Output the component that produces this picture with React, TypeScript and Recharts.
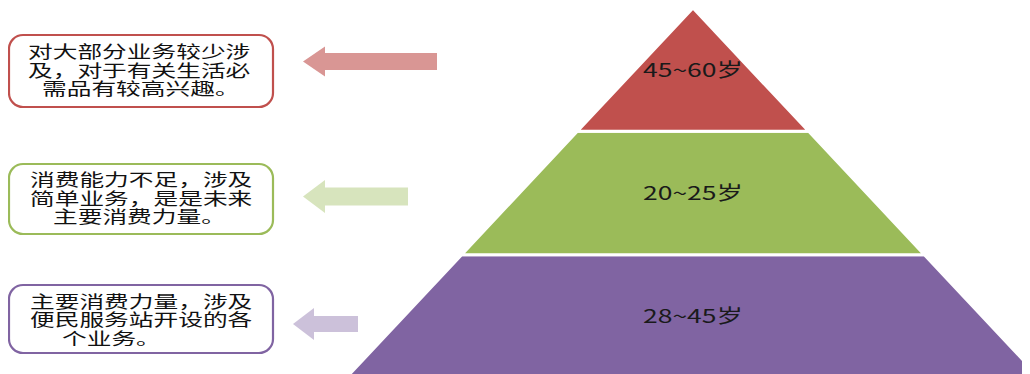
import { FunnelChart, Funnel, Cell, LabelList } from "recharts";

// pyramid levels, bottom to top (Funnel is reversed so the first item sits at the base)
const ageGroups = ["28~45岁", "20~25岁", "45~60岁"];
const levelValues = [3, 2, 1];
const levelColors = ["#8064a2", "#9bbb59", "#c0504d"];

// callout boxes, top to bottom
const noteLines = [
  ["对大部分业务较少涉", "及，对于有关生活必", "需品有较高兴趣。"],
  ["消费能力不足，涉及", "简单业务，是是未来", "主要消费力量。"],
  ["主要消费力量，涉及", "便民服务站开设的各", "个业务。"],
];
const noteBorders = ["#c0504d", "#9bbb59", "#8064a2"];
const arrowFills = ["#d99694", "#d7e4bd", "#ccc1da"];

const levels = ageGroups.map((name, i) => ({ name, value: levelValues[i] }));

const CJK = '"Noto Sans CJK SC", "Noto Sans", sans-serif';

const CHART_W = 694;
const CHART_H = 370;

// layout of the callouts (page coordinates)
const boxes = [
  { y: 35, h: 72, lineY: [51, 69.5, 88], lineX: [28, 28, 42] },
  { y: 164, h: 70, lineY: [179, 197.5, 216], lineX: [30, 30, 53] },
  { y: 285, h: 68, lineY: [300.5, 319, 337.5], lineX: [30, 30, 62] },
];
const arrows = [
  { tip: 303, back: 325, end: 437, cy: 61.5, head: 15, shaft: 8.5 },
  { tip: 303, back: 325, end: 408, cy: 196.5, head: 16.5, shaft: 9 },
  { tip: 293, back: 314, end: 358, cy: 324, head: 16, shaft: 8 },
];

const CHAR_W = 24.7;

function AgeLabel(props: any) {
  const vb = props.viewBox || {};
  const by = vb.y ?? props.y;
  const bh = vb.height ?? props.height;
  return (
    <text
      x={CHART_W / 2}
      y={by + bh / 2 - 1.5}
      textAnchor="middle"
      dominantBaseline="central"
      fontSize={19}
      textLength={100}
      lengthAdjust="spacingAndGlyphs"
      fill="#1a1a1a"
      fontFamily={CJK}
    >
      {props.value}
    </text>
  );
}

function Callouts() {
  return (
    <svg
      width={1022}
      height={366}
      viewBox="8 8 1022 366"
      style={{ position: "absolute", left: 0, top: 0, pointerEvents: "none" }}
    >
      {boxes.map((b, i) => (
        <g key={i}>
          <rect
            x={9}
            y={b.y}
            width={264}
            height={b.h}
            rx={14}
            fill="#fff"
            stroke={noteBorders[i]}
            strokeWidth={2.2}
          />
          <text dominantBaseline="central" fontSize={16.5} fontFamily={CJK} fill="#111">
            {noteLines[i].map((line, j) => (
              <tspan
                key={j}
                x={b.lineX[j]}
                y={b.lineY[j]}
                textLength={line.length * CHAR_W}
                lengthAdjust="spacingAndGlyphs"
              >
                {line}
              </tspan>
            ))}
          </text>
        </g>
      ))}
      {arrows.map((a, i) => (
        <polygon
          key={i}
          fill={arrowFills[i]}
          points={[
            [a.tip, a.cy],
            [a.back, a.cy - a.head],
            [a.back, a.cy - a.shaft],
            [a.end, a.cy - a.shaft],
            [a.end, a.cy + a.shaft],
            [a.back, a.cy + a.shaft],
            [a.back, a.cy + a.head],
          ]
            .map((p) => p.join(","))
            .join(" ")}
        />
      ))}
    </svg>
  );
}

export default function App() {
  return (
    <div style={{ position: "relative", width: 1022, height: 366, overflow: "hidden" }}>
      <div style={{ position: "absolute", left: 693 - 8 - CHART_W / 2, top: 0 }}>
        <FunnelChart width={CHART_W} height={CHART_H} margin={{ top: 0, right: 0, bottom: 0, left: 0 }}>
          <Funnel
            dataKey="value"
            nameKey="name"
            data={levels}
            reversed
            lastShapeType="triangle"
            stroke="#fff"
            strokeWidth={3}
            isAnimationActive={false}
          >
            {levels.map((entry, i) => (
              <Cell key={entry.name} fill={levelColors[i]} />
            ))}
            <LabelList dataKey="name" position="center" content={AgeLabel} />
          </Funnel>
        </FunnelChart>
      </div>
      <Callouts />
    </div>
  );
}
